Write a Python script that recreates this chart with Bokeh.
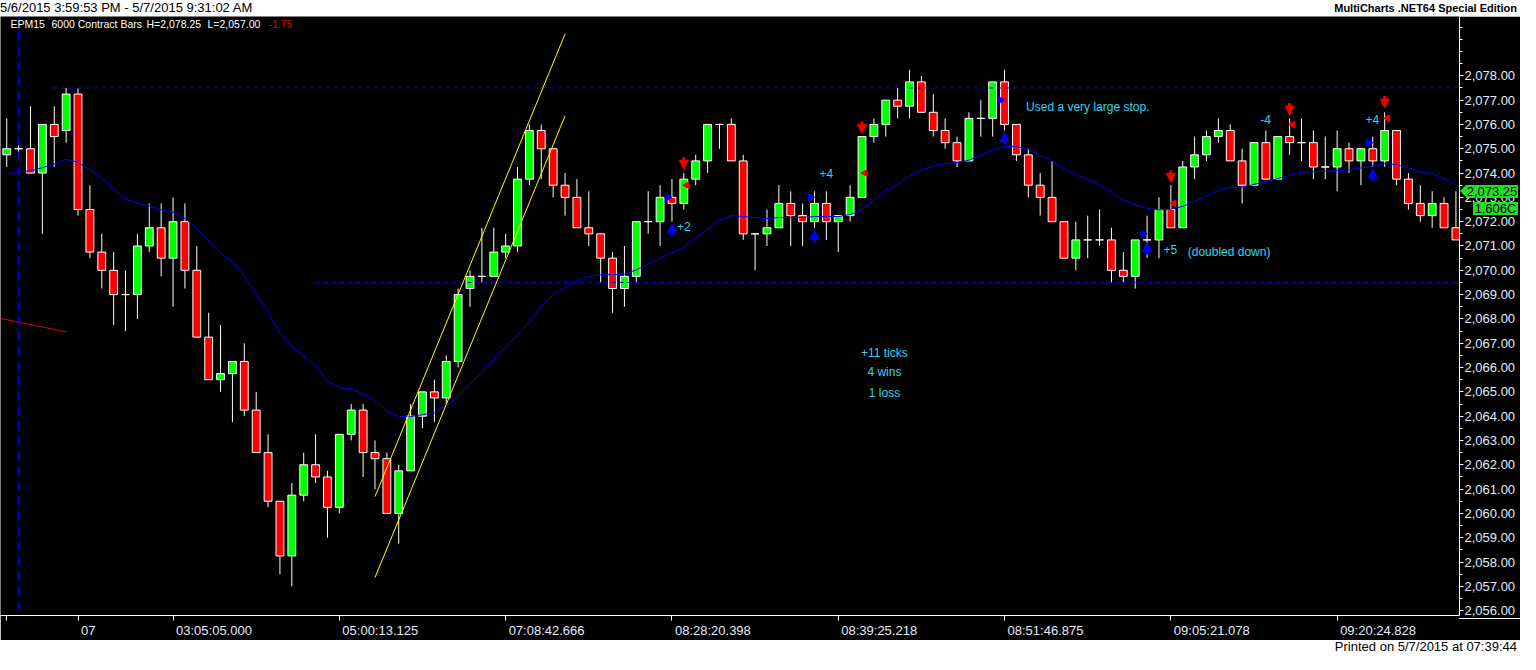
import math

from bokeh.core.properties import value
from bokeh.embed import file_html
from bokeh.layouts import column
from bokeh.models import (Arrow, ColumnDataSource, Div, FixedTicker, Label, NormalHead,
                          NumeralTickFormatter, Range1d, Span)
from bokeh.plotting import figure
from bokeh.resources import INLINE

# EPM15, 6000 contract bars, one entry per bar
opens = [2074.75, 2075.0, 2075.0, 2074.0, 2076.0, 2075.75, 2077.25, 2072.5, 2070.75, 2070.0,
         2069.0, 2069.0, 2071.0, 2071.75, 2070.5, 2072.0, 2070.0, 2067.25, 2065.5, 2065.75,
         2066.25, 2064.25, 2062.5, 2060.5, 2058.25, 2060.75, 2062.0, 2061.5, 2060.25, 2063.25,
         2064.25, 2062.5, 2062.25, 2060.0, 2061.75, 2064.0, 2065.0, 2064.75, 2066.25, 2069.25,
         2069.75, 2069.75, 2070.75, 2071.0, 2073.75, 2075.75, 2075.0, 2073.5, 2073.0, 2071.75,
         2071.5, 2070.5, 2069.25, 2069.75, 2072.0, 2072.0, 2073.0, 2072.75, 2073.75, 2074.5,
         2076.0, 2076.0, 2074.5, 2071.5, 2071.5, 2071.75, 2072.75, 2072.25, 2072.0, 2072.75,
         2072.0, 2072.25, 2073.0, 2075.5, 2076.0, 2077.0, 2076.75, 2077.75, 2076.5, 2075.75,
         2075.25, 2074.5, 2076.25, 2076.25, 2077.75, 2076.0, 2074.75, 2073.5, 2073.0, 2072.0,
         2070.5, 2071.25, 2071.25, 2071.25, 2070.0, 2069.75, 2071.25, 2071.25, 2072.5, 2071.75,
         2074.25, 2074.75, 2075.5, 2075.75, 2074.5, 2073.5, 2075.25, 2073.75, 2075.5, 2075.25,
         2075.25, 2074.25, 2074.25, 2075.0, 2074.5, 2075.0, 2074.5, 2075.75, 2073.75, 2072.75,
         2072.25, 2072.75, 2071.75]
highs = [2076.25, 2075.25, 2076.75, 2076.0, 2076.75, 2077.5, 2077.5, 2073.5, 2071.5, 2070.75,
         2070.0, 2071.5, 2072.75, 2072.75, 2073.0, 2072.75, 2071.0, 2068.25, 2067.75, 2066.25,
         2067.0, 2065.0, 2063.25, 2060.5, 2061.25, 2062.5, 2063.25, 2061.75, 2063.25, 2064.5,
         2064.5, 2063.0, 2062.5, 2062.0, 2064.5, 2065.0, 2065.5, 2066.5, 2069.25, 2070.0,
         2071.75, 2071.75, 2071.5, 2074.25, 2076.0, 2076.0, 2075.0, 2074.0, 2073.75, 2073.25,
         2071.5, 2070.75, 2071.0, 2072.0, 2073.25, 2073.5, 2073.75, 2074.0, 2074.75, 2076.0,
         2076.0, 2076.25, 2074.75, 2071.5, 2072.5, 2073.5, 2073.25, 2072.75, 2073.25, 2073.25,
         2072.25, 2073.5, 2075.5, 2076.25, 2077.0, 2077.5, 2078.25, 2078.0, 2077.25, 2076.25,
         2075.5, 2076.5, 2077.0, 2077.75, 2078.25, 2076.0, 2075.0, 2074.0, 2074.5, 2072.0,
         2072.0, 2072.25, 2072.5, 2071.75, 2070.75, 2071.25, 2072.25, 2073.0, 2073.5, 2074.5,
         2075.5, 2075.75, 2076.25, 2076.0, 2075.0, 2075.25, 2075.75, 2075.5, 2076.25, 2076.25,
         2075.75, 2075.5, 2075.75, 2075.25, 2075.0, 2075.5, 2076.5, 2075.75, 2074.0, 2073.5,
         2073.25, 2073.0, 2073.25]
lows = [2074.25, 2074.75, 2074.0, 2071.5, 2074.25, 2075.25, 2072.25, 2070.5, 2069.25, 2067.75,
        2067.5, 2068.0, 2070.75, 2069.75, 2068.5, 2069.25, 2067.25, 2065.5, 2065.0, 2063.75,
        2064.0, 2062.5, 2060.25, 2057.5, 2057.0, 2060.5, 2061.25, 2059.0, 2060.0, 2063.0,
        2061.5, 2061.0, 2060.0, 2058.75, 2061.75, 2063.5, 2063.75, 2064.5, 2066.0, 2068.5,
        2069.5, 2069.75, 2070.5, 2070.75, 2073.5, 2073.75, 2073.0, 2072.25, 2071.75, 2071.0,
        2069.5, 2068.25, 2068.5, 2069.5, 2071.5, 2071.0, 2072.0, 2072.5, 2073.5, 2074.0,
        2075.0, 2074.5, 2071.25, 2070.0, 2071.0, 2071.75, 2071.0, 2071.0, 2071.75, 2071.25,
        2070.75, 2072.0, 2073.0, 2075.25, 2075.5, 2076.25, 2076.25, 2076.5, 2075.5, 2075.0,
        2074.25, 2074.5, 2075.5, 2075.5, 2075.75, 2074.5, 2073.0, 2072.25, 2072.0, 2070.5,
        2070.0, 2070.5, 2071.0, 2069.5, 2069.5, 2069.25, 2070.5, 2070.5, 2071.75, 2071.75,
        2073.75, 2074.5, 2075.25, 2074.5, 2072.75, 2073.5, 2073.75, 2073.75, 2074.75, 2074.5,
        2073.75, 2073.75, 2073.25, 2074.0, 2073.5, 2074.25, 2074.25, 2073.5, 2072.5, 2072.0,
        2071.75, 2071.75, 2071.25]
closes = [2075.0, 2075.0, 2074.0, 2076.0, 2075.5, 2077.25, 2072.5, 2070.75, 2070.0, 2069.0,
          2069.0, 2071.0, 2071.75, 2070.5, 2072.0, 2070.0, 2067.25, 2065.5, 2065.75, 2066.25,
          2064.25, 2062.5, 2060.5, 2058.25, 2060.75, 2062.0, 2061.5, 2060.25, 2063.25, 2064.25,
          2062.5, 2062.25, 2060.0, 2061.75, 2064.0, 2065.0, 2064.75, 2066.25, 2069.0, 2069.75,
          2069.75, 2070.75, 2071.0, 2073.75, 2075.75, 2075.0, 2073.5, 2073.0, 2071.75, 2071.5,
          2070.5, 2069.25, 2069.75, 2072.0, 2072.0, 2073.0, 2072.75, 2073.75, 2074.5, 2076.0,
          2076.0, 2074.5, 2071.5, 2071.5, 2071.75, 2072.75, 2072.25, 2072.0, 2072.75, 2072.0,
          2072.25, 2073.0, 2075.5, 2076.0, 2077.0, 2076.75, 2077.75, 2076.5, 2075.75, 2075.25,
          2074.5, 2076.25, 2076.25, 2077.75, 2076.0, 2074.75, 2073.5, 2073.0, 2072.0, 2070.5,
          2071.25, 2071.25, 2071.25, 2070.0, 2069.75, 2071.25, 2071.25, 2072.5, 2071.75, 2074.25,
          2074.75, 2075.5, 2075.75, 2074.5, 2073.5, 2075.25, 2073.75, 2075.5, 2075.25, 2075.25,
          2074.25, 2074.25, 2075.0, 2074.5, 2075.0, 2074.5, 2075.75, 2073.75, 2072.75, 2072.25,
          2072.75, 2071.75, 2071.25]

# moving average (blue line)
ma = [2073.97, 2074.06, 2074.09, 2074.22, 2074.36, 2074.57, 2074.44, 2074.13, 2073.77, 2073.33,
      2072.93, 2072.76, 2072.65, 2072.49, 2072.39, 2072.13, 2071.73, 2071.20, 2070.69, 2070.36,
      2069.78, 2069.02, 2068.27, 2067.41, 2066.87, 2066.48, 2066.08, 2065.44, 2065.17, 2065.12,
      2064.91, 2064.65, 2064.19, 2063.98, 2063.98, 2064.06, 2064.14, 2064.43, 2064.83, 2065.31,
      2065.82, 2066.34, 2066.86, 2067.34, 2067.86, 2068.54, 2068.98, 2069.30, 2069.58, 2069.74,
      2069.82, 2069.82, 2069.84, 2070.02, 2070.26, 2070.50, 2070.73, 2070.93, 2071.33, 2071.69,
      2072.05, 2072.25, 2072.21, 2072.17, 2072.13, 2072.17, 2072.17, 2072.17, 2072.21, 2072.21,
      2072.21, 2072.29, 2072.49, 2072.89, 2073.29, 2073.53, 2073.89, 2074.13, 2074.29, 2074.39,
      2074.43, 2074.53, 2074.73, 2074.97, 2075.09, 2075.09, 2074.97, 2074.73, 2074.49, 2074.17,
      2073.93, 2073.73, 2073.51, 2073.21, 2072.89, 2072.69, 2072.55, 2072.49, 2072.51, 2072.63,
      2072.83, 2073.05, 2073.29, 2073.41, 2073.42, 2073.53, 2073.65, 2073.77, 2073.91, 2074.04,
      2074.05, 2074.07, 2074.10, 2074.13, 2074.21, 2074.29, 2074.39, 2074.35, 2074.21, 2074.05,
      2073.97, 2073.77, 2073.53]

# price axis: labelled levels and half-point marks
price_ticks = [2056, 2057, 2058, 2059, 2060, 2061, 2062, 2063, 2064, 2065, 2066, 2067,
               2068, 2069, 2070, 2071, 2072, 2073, 2074, 2075, 2076, 2077, 2078]
price_marks = [2055.5 + 0.5 * k for k in range(50)]

# time axis
tick_bars = [0, 6, 14, 28, 42, 56, 70, 84, 98, 112]
tick_labels = ["", "07", "03:05:05.000", "05:00:13.125", "07:08:42.666", "08:28:20.398",
               "08:39:25.218", "08:51:46.875", "09:05:21.078", "09:20:24.828"]

# trades
entry_bars = [56, 68, 84, 96, 115]
entry_prices = [2073.0, 2073.0, 2077.0, 2071.5, 2075.25]
entry_arrow_prices = [2071.67, 2071.40, 2075.42, 2070.89, 2073.93]
exit_bars = [57, 72, 98, 108, 116]
exit_prices = [2073.5, 2074.0, 2072.75, 2076.0, 2076.25]
exit_arrow_prices = [2074.40, 2075.88, 2073.86, 2076.63, 2076.92]

# drawings
level_start = [3.9, 26.0]
level_price = [2077.5, 2069.5]
session_bar = 1
trend_x0 = [31, 31]
trend_y0 = [2060.69, 2057.36]
trend_x1 = [47, 47]
trend_y1 = [2079.72, 2076.35]
red_x = [-0.525, 5.06]
red_y = [2068.02, 2067.46]

note_text = ["+2", "+4", "Used a very large stop.", "-4", "+4", "+5", "(doubled down)"]
note_x = [56.42, 68.42, 85.81, 105.53, 114.39, 97.39, 99.42]
note_y = [2071.82, 2073.97, 2076.72, 2076.20, 2076.20, 2070.87, 2070.77]
summary_text = ["+11 ticks", "4 wins", "1 loss"]
summary_x = [73.89, 73.89, 73.89]
summary_y = [2066.58, 2065.82, 2064.95]

last_price = 2073.25
last_price_label = "2,073.25"
volume_label = "1,606C"

W, H = 1520, 624
BORDER_R, BORDER_B = 61, 22
X0, X1 = -0.525, 122.3
Y0, Y1 = 2055.8, 2080.44
FONT = "Liberation Sans"
AXIS_TEXT = "#e4ebff"
CYAN = "#30d4f2"
BLUE = "#0000ff"
RED = "#ee0000"
TAG_GREEN = "#22e022"

frame_w = W - BORDER_R
frame_h = H - BORDER_B
px_per_bar = frame_w / (X1 - X0)
px_per_pt = frame_h / (Y1 - Y0)

candles = ColumnDataSource(dict(
    x=list(range(len(opens))),
    high=highs,
    low=lows,
    top=[max(o, c) for o, c in zip(opens, closes)],
    bottom=[min(o, c) for o, c in zip(opens, closes)],
    color=["#00ff00" if c >= o else "#ff0000" for o, c in zip(opens, closes)],
))

p = figure(width=W, height=H, title=None, x_range=Range1d(X0, X1), y_range=Range1d(Y0, Y1),
           y_axis_location="right", output_backend="svg", toolbar_location=None,
           background_fill_color="black", border_fill_color="black",
           min_border_left=0, min_border_top=0,
           min_border_right=BORDER_R, min_border_bottom=BORDER_B)
p.outline_line_color = None
p.grid.visible = False

# price axis
yax = p.yaxis[0]
yax.ticker = FixedTicker(ticks=price_ticks, minor_ticks=price_marks)
yax.formatter = NumeralTickFormatter(format="0,0.00")
yax.axis_line_color = "white"
yax.major_tick_line_color = "white"
yax.minor_tick_line_color = "white"
yax.major_tick_in = 0
yax.major_tick_out = 4
yax.minor_tick_in = 0
yax.minor_tick_out = 3
yax.major_label_standoff = 1
yax.major_label_text_color = AXIS_TEXT
yax.major_label_text_font = FONT
yax.major_label_text_font_size = "13px"


# time axis: labels sit to the right of their tick
def text_width(s, size):
    return size * sum(0.278 if ch in ":.," else 0.556 for ch in s)


label_pos = [round(b + (3 + text_width(t, 13) / 2) / px_per_bar, 3)
             for b, t in zip(tick_bars, tick_labels) if t]
xax = p.xaxis[0]
xax.ticker = FixedTicker(ticks=label_pos, minor_ticks=tick_bars)
xax.major_label_overrides = {pos: t for pos, t in zip(label_pos, [t for t in tick_labels if t])}
xax.axis_line_color = "white"
xax.major_tick_line_color = None
xax.major_tick_in = 0
xax.major_tick_out = 5
xax.minor_tick_line_color = "white"
xax.minor_tick_in = 0
xax.minor_tick_out = 5
xax.major_label_standoff = 2
xax.major_label_text_color = AXIS_TEXT
xax.major_label_text_font = FONT
xax.major_label_text_font_size = "13px"

# candles
p.segment(x0="x", y0="high", x1="x", y1="low", source=candles, line_color="#ffffee", line_width=1)
p.vbar(x="x", width=0.66, top="top", bottom="bottom", source=candles,
       fill_color="color", line_color="white", line_width=1)

# drawings
p.segment(x0=level_start, y0=level_price, x1=[X1] * len(level_start), y1=level_price,
          line_color="#0a0ad2", line_dash="4 4", line_width=1)
p.add_layout(Span(location=session_bar, dimension="height", line_color=BLUE,
                  line_dash="9 6", line_width=1.5))
p.line(list(range(len(ma))), ma, line_color=BLUE, line_width=1)
p.segment(x0=trend_x0, y0=trend_y0, x1=trend_x1, y1=trend_y1, line_color="#ffff00", line_width=1)
p.line(red_x, red_y, line_color="#dd0000", line_width=1)

# trade markers
half = 6 / px_per_pt
up_src = ColumnDataSource(dict(x=entry_bars, y0=[v - half for v in entry_arrow_prices],
                               y1=[v + half for v in entry_arrow_prices]))
dn_src = ColumnDataSource(dict(x=exit_bars, y0=[v + half for v in exit_arrow_prices],
                               y1=[v - half for v in exit_arrow_prices]))
p.add_layout(Arrow(end=NormalHead(size=9, fill_color=BLUE, line_color=BLUE),
                   x_start="x", y_start="y0", x_end="x", y_end="y1", source=up_src,
                   line_color=BLUE, line_width=3))
p.add_layout(Arrow(end=NormalHead(size=9, fill_color=RED, line_color=RED),
                   x_start="x", y_start="y0", x_end="x", y_end="y1", source=dn_src,
                   line_color=RED, line_width=3))
p.scatter([b - 4 / px_per_bar for b in entry_bars], entry_prices, marker="triangle", size=7,
          angle=-math.pi / 2, fill_color=BLUE, line_color=BLUE)
p.scatter([b + 3 / px_per_bar for b in exit_bars], exit_prices, marker="triangle", size=7,
          angle=math.pi / 2, fill_color=RED, line_color=RED)

# notes
p.text(x=note_x, y=note_y, text=note_text, text_color=CYAN, text_font=value(FONT),
       text_font_size="12px", text_align="left", text_baseline="middle")
p.text(x=summary_x, y=summary_y, text=summary_text, text_color=CYAN, text_font=value(FONT),
       text_font_size="12px", text_align="center", text_baseline="middle")

# symbol line at the top
for txt, sx, col in [("EPM15", 10, "white"), ("6000 Contract Bars", 51, "white"),
                     ("H=2,078.25", 146, "white"), ("L=2,057.00", 207, "white"),
                     ("-1.75", 268, "#e00000")]:
    p.add_layout(Label(x=sx, y=frame_h - 10, x_units="screen", y_units="screen", text=txt,
                       text_color=col, text_font=FONT, text_font_size="10.5px",
                       text_baseline="middle"))

header = Div(
    text=('<div style="display:flex;justify-content:space-between;width:%dpx">'
          '<span>5/6/2015 3:59:53 PM - 5/7/2015 9:31:02 AM</span>'
          '<span style="font-weight:bold;font-size:11px;padding-right:3px">'
          'MultiCharts .NET64 Special Edition</span></div>') % W,
    width=W, height=16, margin=0,
    styles={"background-color": "white", "color": "black", "font-family": FONT,
            "font-size": "13px", "line-height": "16px", "white-space": "nowrap"})

# last-price tag over the price axis and the time-axis line under it,
# placed from the footer (which sits right below the figure)
tag_cy = -H + (Y1 - last_price) * px_per_pt
tag_html = (
    '<div style="position:absolute;left:%dpx;top:%.1fpx;width:0;height:0;'
    'border-top:6.5px solid transparent;border-bottom:6.5px solid transparent;'
    'border-right:6px solid %s"></div>'
    '<div style="position:absolute;left:%dpx;top:%.1fpx;width:52px;height:13px;'
    'background:%s;color:black;font-size:13px;line-height:13px;text-align:center">%s</div>'
    '<div style="position:absolute;left:%dpx;top:%.1fpx;width:45px;height:13px;'
    'background:%s;color:black;font-size:13px;line-height:13px;text-align:center">%s</div>'
    '<div style="position:absolute;left:%dpx;top:%dpx;width:%dpx;height:1px;'
    'background:white"></div>'
) % (frame_w + 1, tag_cy - 6.5, TAG_GREEN,
     frame_w + 7, tag_cy - 6.5, TAG_GREEN, last_price_label,
     frame_w + 14, tag_cy + 10.5, TAG_GREEN, volume_label,
     frame_w, -BORDER_B, BORDER_R)
footer = Div(
    text=('<div style="position:relative;text-align:right;width:%dpx">'
          'Printed on 5/7/2015 at 07:39:44%s</div>') % (W - 3, tag_html),
    width=W, height=14, margin=0,
    styles={"background-color": "white", "color": "black", "font-family": FONT,
            "font-size": "13px", "line-height": "14px", "white-space": "nowrap"})

layout = column(header, p, footer, spacing=0)
open("out.html", "w").write(file_html(layout, INLINE))
